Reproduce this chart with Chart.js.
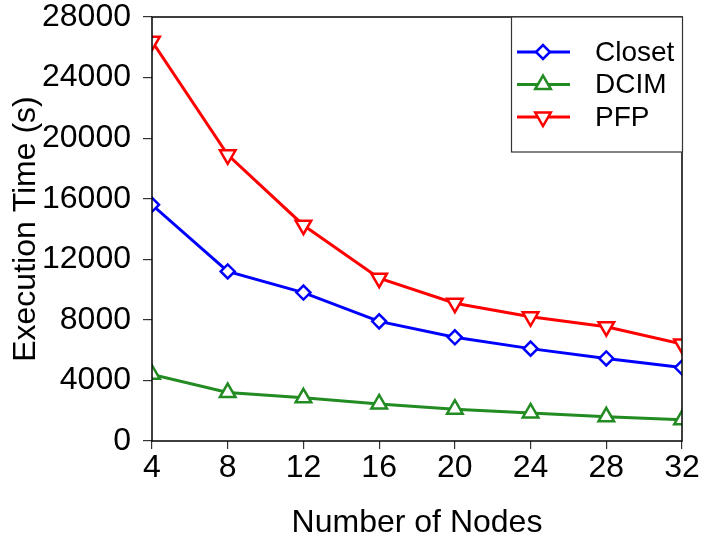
<!DOCTYPE html>
<html>
<head>
<meta charset="utf-8">
<style>
  html, body { margin: 0; padding: 0; background: #fff; }
  #wrap { width: 701px; height: 542px; }
</style>
<script src="https://cdn.jsdelivr.net/npm/chart.js@4/dist/chart.umd.min.js"></script>
</head>
<body>
<div id="wrap"><canvas id="chart" width="701" height="542"></canvas></div>
<script>
const nodes = [4, 8, 12, 16, 20, 24, 28, 32];
const closetTimes = [15600, 11200, 9800, 7900, 6850, 6100, 5450, 4850];
const dcimTimes = [4400, 3200, 2850, 2450, 2100, 1850, 1600, 1400];
const pfpTimes = [26400, 18900, 14250, 10750, 9100, 8200, 7550, 6400];
const yTicks = [0, 4000, 8000, 12000, 16000, 20000, 24000, 28000];

const FONT = '"Liberation Sans", Arial, Helvetica, sans-serif';

/* ---------- frame + legend box ---------- */
const framePlugin = {
  id: 'frame',
  afterDatasetsDraw(chart) {
    const { ctx, chartArea: a } = chart;
    ctx.save();
    ctx.strokeStyle = '#000';
    ctx.lineWidth = 1.5;
    ctx.strokeRect(a.left, a.top, a.right - a.left, a.bottom - a.top);
    ctx.restore();
  }
};

const legendPlugin = {
  id: 'boxLegend',
  afterDraw(chart) {
    const ctx = chart.ctx;
    ctx.save();
    ctx.fillStyle = '#fff';
    ctx.fillRect(511, 17, 171, 135);
    ctx.strokeStyle = '#333';
    ctx.lineWidth = 1.2;
    ctx.strokeRect(511.5, 17, 171, 135);

    chart.data.datasets.forEach((ds, i) => {
      const y = 52 + i * 32.5;
      ctx.strokeStyle = ds.borderColor;
      ctx.lineWidth = 3;
      ctx.beginPath();
      ctx.moveTo(517, y);
      ctx.lineTo(570, y);
      ctx.stroke();
      ctx.fillStyle = '#fff';
      ctx.lineWidth = ds.pointBorderWidth;
      Chart.helpers.drawPoint(ctx, {
        pointStyle: ds.pointStyle,
        radius: ds.pointRadius,
        rotation: ds.pointRotation || 0,
        borderWidth: ds.pointBorderWidth
      }, 543, y);
      ctx.fillStyle = '#000';
      ctx.font = '28px ' + FONT;
      ctx.textBaseline = 'middle';
      ctx.textAlign = 'left';
      ctx.fillText(ds.label, 595, y + 1);
    });
    ctx.restore();
  }
};

const mkSet = (label, data, color, style, radius, rotation) => ({
  label,
  data,
  borderColor: color,
  backgroundColor: '#fff',
  borderWidth: 3,
  pointStyle: style,
  pointRadius: radius,
  pointRotation: rotation,
  pointBorderColor: color,
  pointBackgroundColor: '#fff',
  pointBorderWidth: 2.5,
  tension: 0,
  clip: 0
});

new Chart(document.getElementById('chart'), {
  type: 'line',
  data: {
    labels: nodes,
    datasets: [
      mkSet('Closet', closetTimes, '#0000ff', 'rectRot', 7, 0),
      mkSet('DCIM', dcimTimes, '#228b22', 'triangle', 9, 0),
      mkSet('PFP', pfpTimes, '#ff0000', 'triangle', 9, 180)
    ]
  },
  options: {
    responsive: false,
    animation: false,
    layout: { padding: { top: 17, right: 19, left: 0, bottom: 0 } },
    plugins: { legend: { display: false }, tooltip: { enabled: false } },
    scales: {
      x: {
        type: 'category',
        offset: false,
        border: { display: false },
        grid: { drawOnChartArea: false, drawTicks: true, tickLength: 8, tickColor: '#333', lineWidth: 1.2 },
        ticks: { color: '#000', font: { family: FONT, size: 32 }, padding: 0, maxRotation: 0, autoSkip: false },
        title: { display: true, text: 'Number of Nodes', color: '#000', font: { family: FONT, size: 32 }, padding: { top: 0, bottom: 0 } },
        afterFit(scale) {
          scale.height = 101;
          scale.paddingLeft = 0;
          scale.paddingRight = 0;
        }
      },
      y: {
        min: 0,
        max: 28000,
        border: { display: false },
        grid: { drawOnChartArea: false, drawTicks: true, tickLength: 9, tickColor: '#333', lineWidth: 1.2 },
        afterBuildTicks(scale) {
          scale.ticks = yTicks.map(v => ({ value: v }));
        },
        ticks: {
          color: '#000',
          font: { family: FONT, size: 32 },
          padding: 12,
          callback: (v) => String(v)
        },
        title: { display: true, text: 'Execution Time (s)', color: '#000', font: { family: FONT, size: 32 }, padding: { top: 7, bottom: 0 } },
        afterFit(scale) {
          scale.width = 152;
          scale.paddingTop = 0;
          scale.paddingBottom = 0;
        }
      }
    }
  },
  plugins: [framePlugin, legendPlugin]
});
</script>
</body>
</html>
